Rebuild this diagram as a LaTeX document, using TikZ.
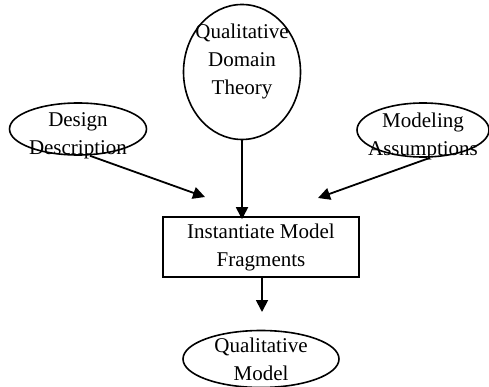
\documentclass[tikz,border=0pt]{standalone}
\usepackage{fontspec}
\setmainfont{Liberation Serif}
\usetikzlibrary{shapes.geometric,arrows.meta}
\begin{document}
\begin{tikzpicture}[x=1pt, y=-1pt, font=\fontsize{21}{28}\selectfont,
    oval/.style={draw, ellipse, line width=1.6pt, inner sep=-14pt, align=center},
    conn/.style={line width=1.8pt, -{Triangle[length=12pt, width=12pt]}}]
  \useasboundingbox (0,0) rectangle (489,387);
  % inputs
  \node[oval, minimum width=117pt, minimum height=135pt] (theory) at (242,72) {Qualitative\\Domain\\Theory\\[-2pt]};
  \node[oval, minimum width=137pt, minimum height=52pt] (design) at (78,129) {\rule{0pt}{27pt}Design\\Description};
  \node[oval, minimum width=132pt, minimum height=54pt] (assume) at (423,130) {\rule{0pt}{27pt}Modeling\\Assumptions};
  % process and result
  \node[draw, line width=1.6pt, minimum width=196pt, minimum height=60pt, inner sep=0pt, align=center]
    (inst) at (261,247) {Instantiate Model\\Fragments};
  \node[oval, minimum width=156pt, minimum height=57pt] (qmodel) at (261,359) {Qualitative\\Model};
  \coordinate (inL) at (205,197);
  \coordinate (inR) at (318,198);
  \coordinate (res) at (262,312);
  \draw[conn] ([xshift=12pt]design.south) -- (inL);
  \draw[conn] (theory.south) -- ([yshift=-3pt]theory.south |- inst.north);
  \draw[conn] ([xshift=7pt]assume.south) -- (inR);
  \draw[conn] (inst.south -| res) -- (res);
\end{tikzpicture}
\end{document}
